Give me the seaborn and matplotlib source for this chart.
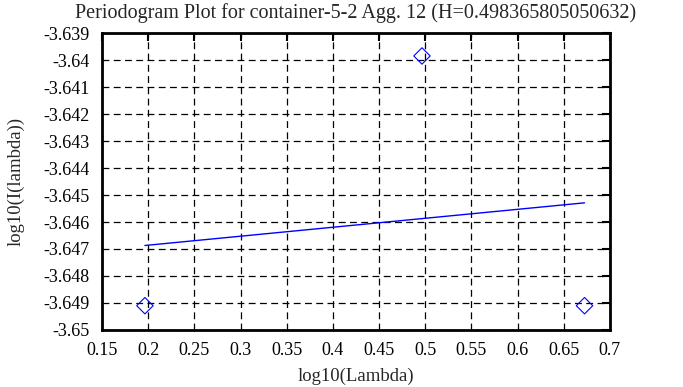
import matplotlib
matplotlib.use("Agg")
import matplotlib.pyplot as plt
import seaborn as sns
import numpy as np
import pandas as pd

# periodogram points (log10 lambda, log10 I(lambda))
log_lambda = [0.1965, 0.4965, 0.6725]
log_intensity = [-3.64910, -3.63985, -3.64910]

# fitted line endpoints
fit_x = [0.1965, 0.6725]
fit_y = [-3.64687, -3.64529]

x_ticks = [0.15, 0.2, 0.25, 0.3, 0.35, 0.4, 0.45, 0.5, 0.55, 0.6, 0.65, 0.7]
y_ticks = [-3.65, -3.649, -3.648, -3.647, -3.646, -3.645, -3.644, -3.643,
           -3.642, -3.641, -3.64, -3.639]
y_labels = ["-3.65", "-3.649", "-3.648", "-3.647", "-3.646", "-3.645", "-3.644",
            "-3.643", "-3.642", "-3.641", "-3.64", "-3.639"]
x_labels = ["0.15", "0.2", "0.25", "0.3", "0.35", "0.4", "0.45", "0.5",
            "0.55", "0.6", "0.65", "0.7"]

sns.set_style("white")
plt.rcParams['font.family'] = ['Liberation Serif', 'DejaVu Serif']

pts = pd.DataFrame({'x': log_lambda, 'y': log_intensity})
fit = pd.DataFrame({'x': fit_x, 'y': fit_y})

fig = plt.figure(figsize=(6.83, 3.87), dpi=100)
ax = fig.add_axes([0.1493, 0.1473, 0.7437, 0.7674])

sns.lineplot(data=fit, x='x', y='y', ax=ax, color='#0000ff', linewidth=1.0)
sns.scatterplot(data=pts, x='x', y='y', ax=ax, marker='D', s=70,
                facecolor='none', edgecolor='#0000ff', linewidth=0.8, zorder=5)

ax.set_xlim(0.15, 0.7)
ax.set_ylim(-3.65, -3.639)
ax.set_xticks(x_ticks)
ax.set_xticklabels(x_labels)
ax.set_yticks(y_ticks)
ax.set_yticklabels(y_labels)
ax.grid(True, color='black', linestyle=(0, (5.5, 3.5)), linewidth=0.9)
ax.tick_params(direction='in', length=6, width=1.5, top=True, right=True,
               labelsize=13, colors='black', pad=9)
for s in ax.spines.values():
    s.set_color('black')
    s.set_linewidth(2)

ax.set_xlabel('log10(Lambda)', fontsize=13.5, labelpad=6)
ax.set_ylabel('log10(I(lambda))', fontsize=13.5, labelpad=13)
ax.set_title('Periodogram Plot for container-5-2 Agg. 12 (H=0.498365805050632)',
             fontsize=14.5, pad=11)

fig.savefig('out.png', dpi=100)
